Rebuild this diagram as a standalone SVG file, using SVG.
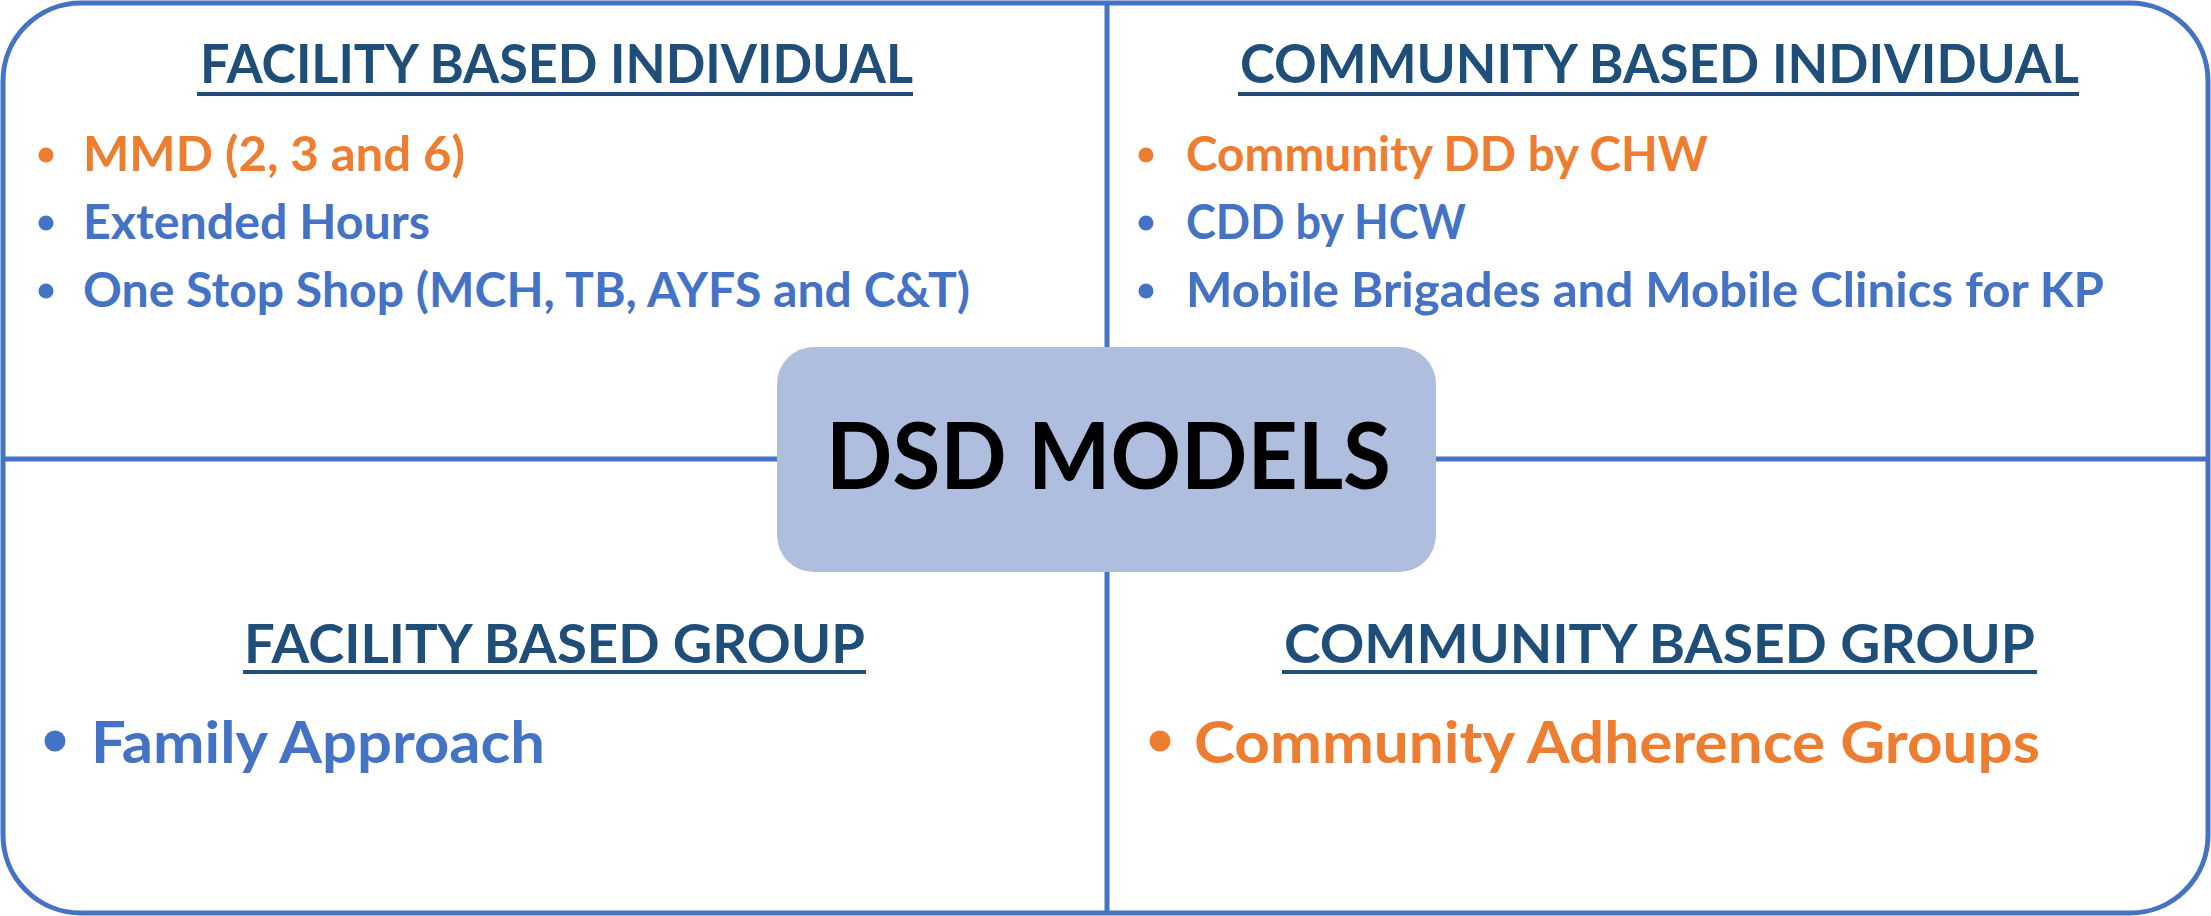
<svg xmlns="http://www.w3.org/2000/svg" width="2211" height="916" viewBox="0 0 2211 916">
<style>
.frame{fill:#FFFFFF;stroke:#4472C4;stroke-width:5}
.div{stroke:#4472C4;stroke-width:5;fill:none}
.hdr{font-family:Lato,"Open Sans","Liberation Sans",sans-serif;font-weight:bold;font-size:53px;fill:#1F4E79}
.ul{fill:#1F4E79}
.it{font-family:Lato,"Open Sans","Liberation Sans",sans-serif;font-weight:bold;font-size:47px}
.big{font-family:Lato,"Open Sans","Liberation Sans",sans-serif;font-weight:bold;font-size:58px}
.or{fill:#ED7D31}
.bl{fill:#4472C4}
.center{fill:#AFBDDF}
.title{font-family:Lato,"Open Sans","Liberation Sans",sans-serif;font-weight:bold;font-size:92px;fill:#000000}
</style>
<rect class="frame" x="3" y="3" width="2205" height="910" rx="78" ry="78"/>
<g id="connectors">
<line class="div" x1="1107" y1="3" x2="1107" y2="913"/>
<line class="div" x1="3" y1="459" x2="2208" y2="459"/>
</g>
<g id="facility-individual">
<text class="hdr" x="200" y="83" textLength="713" lengthAdjust="spacingAndGlyphs">FACILITY BASED INDIVIDUAL</text>
<rect class="ul" x="197" y="92" width="716" height="4"/>
<circle class="or" cx="46" cy="155" r="7.5"/>
<text class="it or" x="83" y="171" textLength="382" lengthAdjust="spacingAndGlyphs">MMD (2, 3 and 6)</text>
<circle class="bl" cx="46" cy="223" r="7.5"/>
<text class="it bl" x="83" y="239" textLength="347" lengthAdjust="spacingAndGlyphs">Extended Hours</text>
<circle class="bl" cx="46" cy="291" r="7.5"/>
<text class="it bl" x="83" y="307" textLength="887" lengthAdjust="spacingAndGlyphs">One Stop Shop (MCH, TB, AYFS and C&amp;T)</text>
</g>
<g id="community-individual">
<text class="hdr" x="1240" y="83" textLength="839" lengthAdjust="spacingAndGlyphs">COMMUNITY BASED INDIVIDUAL</text>
<rect class="ul" x="1238" y="92" width="841" height="4"/>
<circle class="or" cx="1146" cy="155" r="7.5"/>
<text class="it or" x="1186" y="171" textLength="522" lengthAdjust="spacingAndGlyphs">Community DD by CHW</text>
<circle class="bl" cx="1146" cy="223" r="7.5"/>
<text class="it bl" x="1186" y="239" textLength="280" lengthAdjust="spacingAndGlyphs">CDD by HCW</text>
<circle class="bl" cx="1146" cy="291" r="7.5"/>
<text class="it bl" x="1186" y="307" textLength="918" lengthAdjust="spacingAndGlyphs">Mobile Brigades and Mobile Clinics for KP</text>
</g>
<g id="facility-group">
<text class="hdr" x="244" y="663" textLength="621" lengthAdjust="spacingAndGlyphs">FACILITY BASED GROUP</text>
<rect class="ul" x="243" y="670" width="623" height="4"/>
<circle class="bl" cx="55" cy="741" r="10.5"/>
<text class="big bl" x="91" y="763" textLength="454" lengthAdjust="spacingAndGlyphs">Family Approach</text>
</g>
<g id="community-group">
<text class="hdr" x="1284" y="663" textLength="751" lengthAdjust="spacingAndGlyphs">COMMUNITY BASED GROUP</text>
<rect class="ul" x="1282" y="670" width="755" height="4"/>
<circle class="or" cx="1160" cy="741" r="10.5"/>
<text class="big or" x="1194" y="763" textLength="846" lengthAdjust="spacingAndGlyphs">Community Adherence Groups</text>
</g>
<g id="dsd-models">
<rect class="center" x="777" y="347" width="659" height="225" rx="37" ry="37"/>
<text class="title" x="826" y="489" textLength="565" lengthAdjust="spacingAndGlyphs">DSD MODELS</text>
</g>
</svg>
